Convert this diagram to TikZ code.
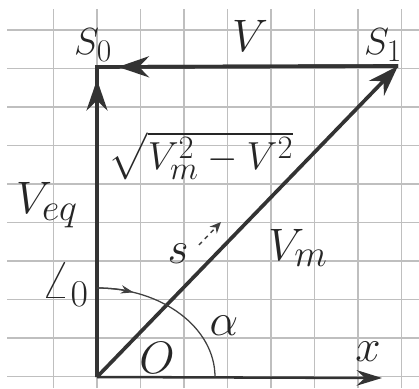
\documentclass[tikz,border=0pt]{standalone}
\usepackage{tikz}
\usepackage{amsmath}
\usetikzlibrary{arrows.meta, positioning}

\begin{document}
\begin{tikzpicture}[x=0.025cm, y=0.025cm,
		vec/.style={line width=2.6pt, draw=black!80},
		tip/.style={-{Stealth[length=22pt, width=15pt]}},
		lbl/.style={text=black!85, font=\Huge, scale=1.3},
		smlbl/.style={text=black!85, font=\Huge, scale=1.08}]
		% Paper and grid
		\useasboundingbox (0,0) rectangle (419,388);
		\fill[white] (0,0) rectangle (419,388);
		\foreach \k in {1,...,9}
			\draw[black!25, line width=1pt] ({10+43.5*\k},0) -- ({10+43.5*\k},379);
		\foreach \k in {0,...,9}
			\draw[black!25, line width=1pt] (7,{11.5+38.5*\k}) -- (419,{11.5+38.5*\k});
		% Corners of the triangle
		\coordinate (O) at (97,11);
		\coordinate (S0) at (97,321);
		\coordinate (S1) at (398,322);
		\coordinate (X) at (382,10);
		% x axis
		\draw[line width=1.8pt, black!80, -{Stealth[length=18pt, width=11pt]}] (O) -- (X);
		% Velocity vectors: V_eq up, V back to S_0, V_m along the diagonal
		\draw[vec] (O) -- (S0) -- (S1);
		\draw[vec, tip, shorten >=9pt] (O) -- (S0);
		\draw[vec, tip, shorten >=15pt] (S1) -- (S0);
		\draw[vec, tip] (O) -- (S1);
		% Angle arc with its arrow
		\draw[line width=0.9pt, black!75] (O) ++(0,89) arc[start angle=90, end angle=0, x radius=118, y radius=89];
		\draw[line width=0.9pt, black!75, -{Stealth[length=9pt, width=6pt]}] (O) ++(0,89) arc[start angle=90, end angle=72, x radius=118, y radius=89];
		% Direction of s
		\coordinate (sa) at (199,143);
		\coordinate (sb) at (221,166);
		\draw[dashed, line width=1pt, black!75, -{Stealth[length=8pt, width=7pt]}] (sa) -- (sb);
		% Labels
		\node[smlbl] (s0lbl) at (93,343) {$S_0$};
		\node[smlbl] (s1lbl) at (383,343) {$S_1$};
		\node[lbl] (vlbl) at (250,352) {$V$};
		\node[lbl, scale=0.86] (rootlbl) at (201,232) {$\sqrt{V_m^2-V^2}$};
		\node[lbl] (veqlbl) at (47,183) {$V_{eq}$};
		\node[lbl] (vmlbl) at (298,140) {$V_m$};
		\node[lbl] (slbl) at (178,134) {$s$};
		\node[lbl] (anglbl) at (65,103) {$\angle_0$};
		\node[lbl] (olbl) at (157,30) {$O$};
		\node[lbl] (alphalbl) at (224,62) {$\alpha$};
		\node[lbl] (xlbl) at (368,36) {$x$};
	\end{tikzpicture}
\end{document}
